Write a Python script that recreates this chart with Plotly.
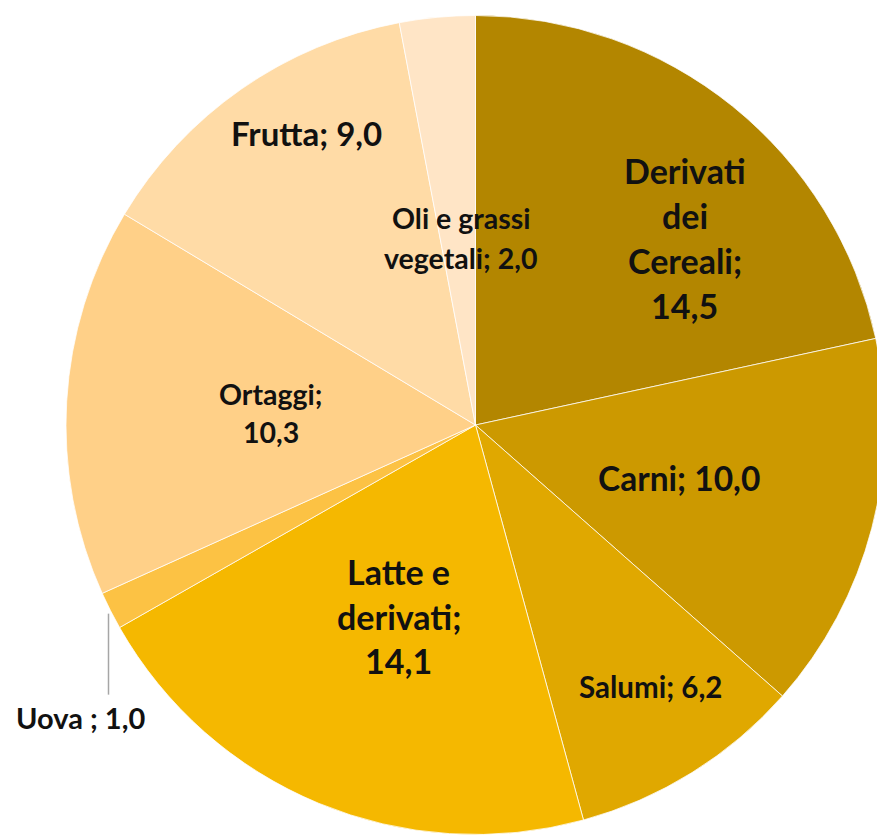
import math
import plotly.graph_objects as go

# ---- data ----
categories = ["Derivati dei Cereali", "Carni", "Salumi", "Latte e derivati",
              "Uova", "Ortaggi", "Frutta", "Oli e grassi vegetali"]
values = [14.5, 10.0, 6.2, 14.1, 1.0, 10.3, 9.0, 2.0]
colors = ["#B38600", "#CC9900", "#E0A800", "#F5B800",
          "#FCC244", "#FFD088", "#FFDBA6", "#FFE5C6"]

# ---- label styling (line wrapping, size, offset from pie centre in px, line step) ----
label_templates = [
    "Derivati|dei|Cereali;|{v}",
    "Carni; {v}",
    "Salumi; {v}",
    "Latte e|derivati;|{v}",
    "Uova ; {v}",
    "Ortaggi;|{v}",
    "Frutta; {v}",
    "Oli e grassi|vegetali; {v}",
]
label_size = [34, 33.5, 29.5, 34, 29, 28.5, 33, 28.5]
label_offset = [(209, -187), (203, 53), (175, 261), (-77, 191),
                (-395, 292), (-205, -12), (-169, -292), (-15, -187)]
label_step = [45, 0, 0, 44.5, 0, 38, 0, 39.5]

# page body has an 8px margin: size the figure so it fits the window
W, H = 877, 827
ML, MR, MT, MB = 58, 0, 7, 0
PW, PH = W - ML - MR, H - MT - MB
R = min(PW, PH) / 2.0
FONT = "Lato"

fig = go.Figure(go.Pie(
    labels=categories,
    values=values,
    sort=False,
    direction="clockwise",
    rotation=0,
    marker=dict(colors=colors, line=dict(color="rgba(255,255,255,0.75)", width=1)),
    textinfo="none",
    hoverinfo="label+value",
    showlegend=False,
))

def fmt(v):
    return f"{v:.1f}".replace(".", ",")

annotations = []
for i, (tpl, v) in enumerate(zip(label_templates, values)):
    lines = tpl.format(v=fmt(v)).split("|")
    dx, dy = label_offset[i]
    n = len(lines)
    for k, line in enumerate(lines):
        ly = dy + (k - (n - 1) / 2.0) * label_step[i]
        annotations.append(dict(
            x=0.5 + dx / PW, y=0.5 - ly / PH,
            xref="paper", yref="paper",
            text=f"<b>{line}</b>", showarrow=False,
            xanchor="center", yanchor="middle",
            font=dict(family=FONT, size=label_size[i], color="#111111"),
        ))

# leader line for the small "Uova" slice, from its outer edge (derived from data)
total = sum(values)
start = sum(values[:4])
mid = (start + values[4] / 2.0) / total * 2 * math.pi
ex = 0.5 + R * math.sin(mid) / PW
ey = 0.5 + R * math.cos(mid) / PH
shapes = [dict(type="line", xref="paper", yref="paper",
               x0=ex - 2 / PW, x1=ex - 2 / PW, y0=ey - 3 / PH, y1=ey - 84 / PH,
               line=dict(color="#A6A6A6", width=1.5))]

fig.update_layout(
    width=W, height=H,
    margin=dict(l=ML, r=MR, t=MT, b=MB),
    paper_bgcolor="white", plot_bgcolor="white",
    annotations=annotations,
    shapes=shapes,
)

fig.write_html("out.html")
